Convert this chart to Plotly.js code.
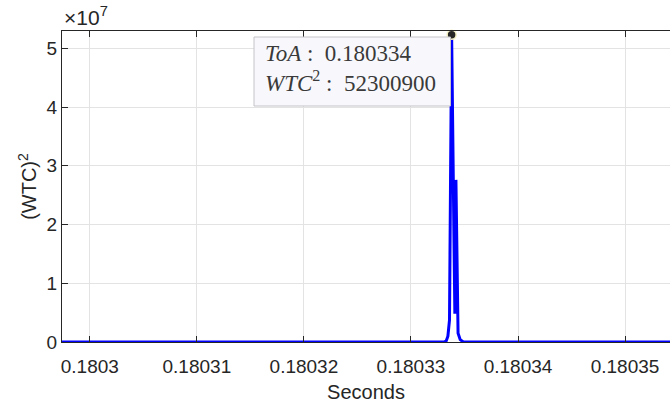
<!DOCTYPE html>
<html>
<head>
<meta charset="utf-8">
<script src="https://cdn.plot.ly/plotly-3.0.1.min.js"></script>
<style>
html,body{margin:0;padding:0;background:#fff;}
#chart{width:670px;height:409px;}
</style>
</head>
<body>
<div id="chart"></div>
<script>
// Data
var timeSeconds = [0.1802974, 0.1803331, 0.1803333, 0.18033345, 0.1803336, 0.1803338, 0.1803341, 0.1803342, 0.1803344, 0.1803346, 0.1803349, 0.1803542];
var wtcSquared  = [0, 0, 200000, 1000000, 3700000, 52300900, 4800000, 27600000, 1500000, 400000, 0, 0];

var tipX = [0.1803338];
var tipY = [52300900];

var xTickVals = [0.1803, 0.18031, 0.18032, 0.18033, 0.18034, 0.18035];
var xTickText = ["0.1803", "0.18031", "0.18032", "0.18033", "0.18034", "0.18035"];
var yTickVals = [0, 10000000, 20000000, 30000000, 40000000, 50000000];
var yTickText = ["0", "1", "2", "3", "4", "5"];

var fontFam = '"Liberation Sans", Arial, Helvetica, sans-serif';
var serifFam = '"Liberation Serif", "DejaVu Serif", serif';
var axisCol = '#262626';

var traces = [
  {
    x: timeSeconds, y: wtcSquared, type: 'scatter', mode: 'lines',
    line: {color: '#0000ff', width: 3}, hoverinfo: 'skip', cliponaxis: true
  },
  {
    x: tipX, y: tipY, type: 'scatter', mode: 'markers',
    marker: {color: '#262626', size: 9, line: {color: '#f3efc4', width: 1.5}},
    hoverinfo: 'skip', cliponaxis: false
  }
];

var layout = {
  width: 670, height: 409,
  margin: {l: 62, r: 0, t: 31, b: 67},
  paper_bgcolor: '#ffffff', plot_bgcolor: '#ffffff',
  showlegend: false,
  font: {family: fontFam, color: axisCol, size: 18},
  xaxis: {
    range: [0.1802974, 0.1803542],
    tickvals: xTickVals, ticktext: xTickText,
    showgrid: true, gridcolor: '#e3e3e3', gridwidth: 1,
    zeroline: false,
    showline: true, linecolor: axisCol, linewidth: 1, mirror: 'ticks',
    ticks: 'inside', ticklen: 6, tickcolor: axisCol, tickwidth: 1,
    ticklabelstandoff: 7,
    tickfont: {family: fontFam, size: 19, color: axisCol},
    title: {text: 'Seconds', font: {family: fontFam, size: 20, color: axisCol}, standoff: 9}
  },
  yaxis: {
    range: [0, 52950000],
    tickvals: yTickVals, ticktext: yTickText,
    showgrid: true, gridcolor: '#e3e3e3', gridwidth: 1,
    zeroline: false,
    showline: true, linecolor: axisCol, linewidth: 1, mirror: false,
    ticks: 'inside', ticklen: 6, tickcolor: axisCol, tickwidth: 1,
    tickfont: {family: fontFam, size: 19, color: axisCol},
    title: {text: '(WTC)<sup>2</sup>', font: {family: fontFam, size: 20, color: axisCol}, standoff: 4}
  },
  shapes: [
    {
      type: 'rect', xref: 'paper', yref: 'paper',
      x0: 0.3158, x1: 0.639, y0: 0.7588, y1: 0.9807,
      fillcolor: '#f8f8fc', line: {color: '#c4c4c8', width: 1}, layer: 'above'
    }
  ],
  annotations: [
    {
      xref: 'paper', yref: 'paper', x: 0.0, y: 1.0, xanchor: 'left', yanchor: 'bottom',
      text: '\u00d710<sup>7</sup>', showarrow: false,
      font: {family: fontFam, size: 21, color: axisCol}
    },
    {
      xref: 'paper', yref: 'paper', x: 0.3306, y: 0.8795, xanchor: 'left', yanchor: 'middle',
      align: 'left', showarrow: false,
      text: '<i>ToA</i> :  0.180334<br><i>WTC</i><sup>2</sup> :  52300900',
      font: {family: serifFam, size: 23, color: '#3a3a3a'}
    }
  ]
};

Plotly.newPlot('chart', traces, layout, {displayModeBar: false, staticPlot: true});
</script>
</body>
</html>
